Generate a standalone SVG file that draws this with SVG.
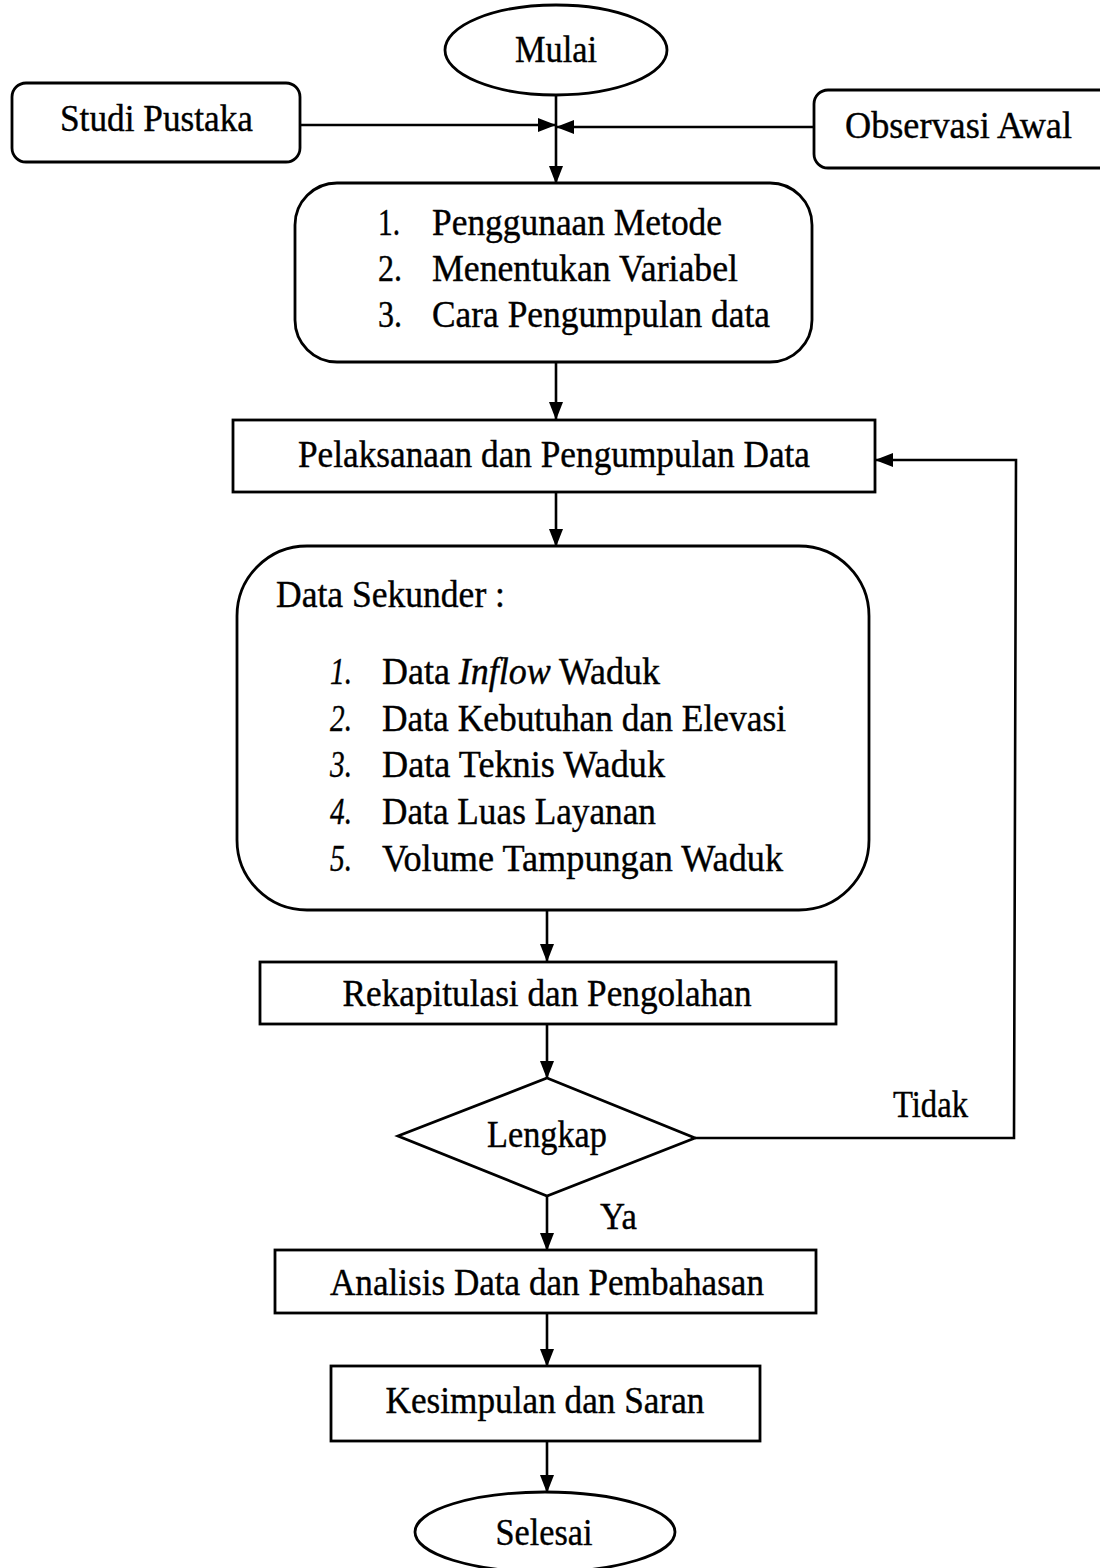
<svg xmlns="http://www.w3.org/2000/svg" width="1100" height="1568" viewBox="0 0 1100 1568">
<style>
.s{fill:#fff;stroke:#000;stroke-width:2.8}
.t{font-family:"Liberation Serif","Times New Roman",serif;font-size:38px;fill:#000;stroke:#000;stroke-width:0.4}
.c{text-anchor:middle}
.ln{fill:none;stroke:#000;stroke-width:2.6}
</style>
<defs>
<marker id="ah" markerWidth="18" markerHeight="14" refX="17" refY="7" orient="auto" markerUnits="userSpaceOnUse">
<path d="M0,0 L18,7 L0,14 Z" fill="#000"/>
</marker>
</defs>
<rect width="1100" height="1568" fill="#fff"/>
<g id="connectors">
<line class="ln" x1="556" y1="95" x2="556" y2="183" marker-end="url(#ah)"/>
<line class="ln" x1="300" y1="125" x2="555" y2="125" marker-end="url(#ah)"/>
<line class="ln" x1="814" y1="127" x2="557" y2="127" marker-end="url(#ah)"/>
<line class="ln" x1="556" y1="362" x2="556" y2="419" marker-end="url(#ah)"/>
<line class="ln" x1="556" y1="492" x2="556" y2="546" marker-end="url(#ah)"/>
<line class="ln" x1="547" y1="910" x2="547" y2="961" marker-end="url(#ah)"/>
<line class="ln" x1="547" y1="1024" x2="547" y2="1078" marker-end="url(#ah)"/>
<polyline class="ln" points="695,1138 1014,1138 1016,460 876,460" marker-end="url(#ah)"/>
<line class="ln" x1="547" y1="1196" x2="547" y2="1250" marker-end="url(#ah)"/>
<line class="ln" x1="547" y1="1313" x2="547" y2="1366" marker-end="url(#ah)"/>
<line class="ln" x1="547" y1="1441" x2="547" y2="1492" marker-end="url(#ah)"/>
<text class="t" x="893" y="1117" textLength="75" lengthAdjust="spacingAndGlyphs">Tidak</text>
<text class="t" x="600" y="1229" textLength="37" lengthAdjust="spacingAndGlyphs">Ya</text>
</g>
<g id="mulai">
<ellipse class="s" cx="556" cy="50" rx="111" ry="45"/>
<text class="t c" x="556" y="62" textLength="82" lengthAdjust="spacingAndGlyphs">Mulai</text>
</g>
<g id="studi">
<rect class="s" x="12" y="83" width="288" height="79" rx="14"/>
<text class="t" x="60" y="131" textLength="193" lengthAdjust="spacingAndGlyphs">Studi Pustaka</text>
</g>
<g id="observasi">
<rect class="s" x="814" y="90" width="300" height="78" rx="14"/>
<text class="t" x="845" y="138" textLength="227" lengthAdjust="spacingAndGlyphs">Observasi Awal</text>
</g>
<g id="metode">
<rect class="s" x="295" y="183" width="517" height="179" rx="42"/>
<text class="t" x="378" y="235" textLength="22" lengthAdjust="spacingAndGlyphs">1.</text>
<text class="t" x="432" y="235" textLength="290" lengthAdjust="spacingAndGlyphs">Penggunaan Metode</text>
<text class="t" x="378" y="281" textLength="24" lengthAdjust="spacingAndGlyphs">2.</text>
<text class="t" x="432" y="281" textLength="306" lengthAdjust="spacingAndGlyphs">Menentukan Variabel</text>
<text class="t" x="378" y="327" textLength="24" lengthAdjust="spacingAndGlyphs">3.</text>
<text class="t" x="432" y="327" textLength="338" lengthAdjust="spacingAndGlyphs">Cara Pengumpulan data</text>
</g>
<g id="pelaksanaan">
<rect class="s" x="233" y="420" width="642" height="72"/>
<text class="t c" x="554" y="467" textLength="512" lengthAdjust="spacingAndGlyphs">Pelaksanaan dan Pengumpulan Data</text>
</g>
<g id="sekunder">
<rect class="s" x="237" y="546" width="632" height="364" rx="70"/>
<text class="t" x="276" y="607" textLength="229" lengthAdjust="spacingAndGlyphs">Data Sekunder :</text>
<text class="t" x="330" y="684" font-style="italic" textLength="22" lengthAdjust="spacingAndGlyphs">1.</text>
<text class="t" x="382" y="684" textLength="278" lengthAdjust="spacingAndGlyphs">Data <tspan font-style="italic">Inflow</tspan> Waduk</text>
<text class="t" x="330" y="731" font-style="italic" textLength="22" lengthAdjust="spacingAndGlyphs">2.</text>
<text class="t" x="382" y="731" textLength="404" lengthAdjust="spacingAndGlyphs">Data Kebutuhan dan Elevasi</text>
<text class="t" x="330" y="777" font-style="italic" textLength="22" lengthAdjust="spacingAndGlyphs">3.</text>
<text class="t" x="382" y="777" textLength="283" lengthAdjust="spacingAndGlyphs">Data Teknis Waduk</text>
<text class="t" x="330" y="824" font-style="italic" textLength="22" lengthAdjust="spacingAndGlyphs">4.</text>
<text class="t" x="382" y="824" textLength="274" lengthAdjust="spacingAndGlyphs">Data Luas Layanan</text>
<text class="t" x="330" y="871" font-style="italic" textLength="22" lengthAdjust="spacingAndGlyphs">5.</text>
<text class="t" x="382" y="871" textLength="401" lengthAdjust="spacingAndGlyphs">Volume Tampungan Waduk</text>
</g>
<g id="rekap">
<rect class="s" x="260" y="962" width="576" height="62"/>
<text class="t c" x="547" y="1006" textLength="409" lengthAdjust="spacingAndGlyphs">Rekapitulasi dan Pengolahan</text>
</g>
<g id="lengkap">
<polygon class="s" points="547,1078 695,1138 547,1196 398,1136"/>
<text class="t c" x="547" y="1147" textLength="120" lengthAdjust="spacingAndGlyphs">Lengkap</text>
</g>
<g id="analisis">
<rect class="s" x="275" y="1250" width="541" height="63"/>
<text class="t c" x="547" y="1295" textLength="434" lengthAdjust="spacingAndGlyphs">Analisis Data dan Pembahasan</text>
</g>
<g id="kesimpulan">
<rect class="s" x="331" y="1366" width="429" height="75"/>
<text class="t c" x="545" y="1413" textLength="319" lengthAdjust="spacingAndGlyphs">Kesimpulan dan Saran</text>
</g>
<g id="selesai">
<ellipse class="s" cx="545" cy="1532" rx="130" ry="40"/>
<text class="t c" x="544" y="1545" textLength="97" lengthAdjust="spacingAndGlyphs">Selesai</text>
</g>
</svg>
